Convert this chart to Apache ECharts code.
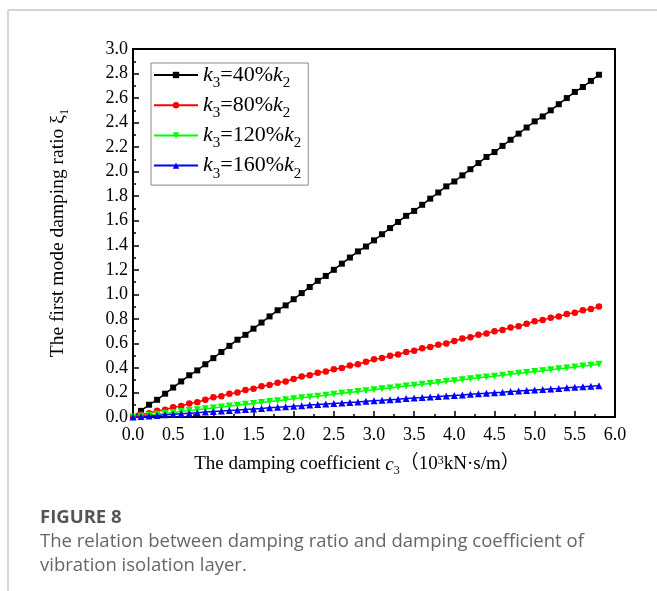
<!DOCTYPE html>
<html>
<head>
<meta charset="utf-8">
<script src="https://cdn.jsdelivr.net/npm/echarts@6/dist/echarts.min.js"></script>
<style>
  html, body { margin: 0; padding: 0; background: #fff; }
  #chart { width: 657px; height: 591px; }
</style>
</head>
<body>
<div id="chart"></div>
<script>
// damping coefficient c3 (10^3 kN·s/m)
var c3 = [0.0, 0.1, 0.2, 0.3, 0.4, 0.5, 0.6, 0.7, 0.8, 0.9,
  1.0, 1.1, 1.2, 1.3, 1.4, 1.5, 1.6, 1.7, 1.8, 1.9,
  2.0, 2.1, 2.2, 2.3, 2.4, 2.5, 2.6, 2.7, 2.8, 2.9,
  3.0, 3.1, 3.2, 3.3, 3.4, 3.5, 3.6, 3.7, 3.8, 3.9,
  4.0, 4.1, 4.2, 4.3, 4.4, 4.5, 4.6, 4.7, 4.8, 4.9,
  5.0, 5.1, 5.2, 5.3, 5.4, 5.5, 5.6, 5.7, 5.8];

var ratio40 = [0.00, 0.05, 0.10, 0.14, 0.19, 0.24, 0.29, 0.34, 0.38, 0.43,
  0.48, 0.53, 0.58, 0.63, 0.67, 0.72, 0.77, 0.82, 0.87, 0.91,
  0.96, 1.01, 1.06, 1.11, 1.15, 1.20, 1.25, 1.30, 1.35, 1.39,
  1.44, 1.49, 1.54, 1.59, 1.64, 1.68, 1.73, 1.78, 1.83, 1.88,
  1.92, 1.97, 2.02, 2.07, 2.12, 2.16, 2.21, 2.26, 2.31, 2.36,
  2.41, 2.45, 2.50, 2.55, 2.60, 2.65, 2.69, 2.74, 2.79];

var ratio80 = [0.00, 0.02, 0.03, 0.05, 0.06, 0.08, 0.09, 0.11, 0.12, 0.14,
  0.16, 0.17, 0.19, 0.20, 0.22, 0.23, 0.25, 0.26, 0.28, 0.29,
  0.31, 0.33, 0.34, 0.36, 0.37, 0.39, 0.40, 0.42, 0.43, 0.45,
  0.47, 0.48, 0.50, 0.51, 0.53, 0.54, 0.56, 0.57, 0.59, 0.60,
  0.62, 0.64, 0.65, 0.67, 0.68, 0.70, 0.71, 0.73, 0.74, 0.76,
  0.78, 0.79, 0.81, 0.82, 0.84, 0.85, 0.87, 0.88, 0.90];

var ratio120 = [0.000, 0.007, 0.015, 0.022, 0.030, 0.037, 0.044, 0.052, 0.059, 0.067,
  0.074, 0.082, 0.089, 0.096, 0.104, 0.111, 0.119, 0.126, 0.133, 0.141,
  0.148, 0.156, 0.163, 0.170, 0.178, 0.185, 0.193, 0.200, 0.207, 0.215,
  0.222, 0.230, 0.237, 0.245, 0.252, 0.259, 0.267, 0.274, 0.282, 0.289,
  0.296, 0.304, 0.311, 0.319, 0.326, 0.333, 0.341, 0.348, 0.356, 0.363,
  0.371, 0.378, 0.385, 0.393, 0.400, 0.408, 0.415, 0.422, 0.430];

var ratio160 = [0.000, 0.004, 0.009, 0.013, 0.018, 0.022, 0.026, 0.031, 0.035, 0.040,
  0.044, 0.048, 0.053, 0.057, 0.062, 0.066, 0.070, 0.075, 0.079, 0.084,
  0.088, 0.092, 0.097, 0.101, 0.106, 0.110, 0.114, 0.119, 0.123, 0.128,
  0.132, 0.136, 0.141, 0.145, 0.150, 0.154, 0.158, 0.163, 0.167, 0.172,
  0.176, 0.180, 0.185, 0.189, 0.194, 0.198, 0.202, 0.207, 0.211, 0.216,
  0.220, 0.224, 0.229, 0.233, 0.238, 0.242, 0.246, 0.251, 0.255];

var seriesNames = ["k3=40%k2", "k3=80%k2", "k3=120%k2", "k3=160%k2"];
var legendLabels = {
  "k3=40%k2": "{i|k}{s|3}=40%{i|k}{s|2}",
  "k3=80%k2": "{i|k}{s|3}=80%{i|k}{s|2}",
  "k3=120%k2": "{i|k}{s|3}=120%{i|k}{s|2}",
  "k3=160%k2": "{i|k}{s|3}=160%{i|k}{s|2}"
};
var captionTitle = "FIGURE 8";
var captionLines = [
  "The relation between damping ratio and damping coefficient of",
  "vibration isolation layer."
];

var serif = "'Liberation Serif', 'Times New Roman', 'Noto Sans CJK SC', serif";

function pairs(ys) {
  return c3.map(function (x, i) { return [x, ys[i]]; });
}

function makeSeries(name, ys, color, symbol, size, rotate) {
  return {
    name: name,
    type: "line",
    data: pairs(ys),
    symbol: symbol,
    symbolSize: size,
    symbolRotate: rotate,
    showAllSymbol: true,
    color: color,
    lineStyle: { color: color, width: 1.5 },
    itemStyle: { color: color }
  };
}

var chart = echarts.init(document.getElementById("chart"));
chart.setOption({
  animation: false,
  backgroundColor: "#fff",
  grid: {
    left: 133,
    top: 49,
    right: 42,
    bottom: 174,
    show: true,
    borderColor: "#000",
    borderWidth: 2
  },
  legend: {
    orient: "vertical",
    left: 151,
    top: 63,
    borderColor: "#888",
    borderWidth: 1,
    padding: [1, 7, 4, 2],
    itemWidth: 44,
    itemHeight: 8,
    itemGap: 3.7,
    itemTextGap: 10,
    itemStyle: { borderWidth: 0 },
    data: seriesNames,
    formatter: function (name) { return legendLabels[name]; },
    textStyle: {
      fontFamily: serif,
      fontSize: 22,
      color: "#000",
      rich: {
        i: { fontFamily: serif, fontSize: 22, fontStyle: "italic", color: "#000" },
        s: { fontFamily: serif, fontSize: 15, color: "#000", padding: [16, 0, 0, 0] }
      }
    }
  },
  xAxis: {
    type: "value",
    min: 0,
    max: 6,
    interval: 0.5,
    name: "The damping coefficient {i|c}{s|3}（10{u|3}kN·s/m）",
    nameLocation: "middle",
    nameGap: 35,
    nameTextStyle: {
      fontFamily: serif,
      fontSize: 19,
      color: "#000",
      padding: [0, 34, 0, 0],
      rich: {
        i: { fontFamily: serif, fontSize: 19, fontStyle: "italic", color: "#000" },
        s: { fontFamily: serif, fontSize: 12, color: "#000", padding: [13, 0, 0, 0] },
        u: { fontFamily: serif, fontSize: 12, color: "#000", padding: [0, 0, 8, 0] }
      }
    },
    axisLine: { show: true, lineStyle: { color: "#000", width: 2 } },
    axisTick: { show: true, inside: true, length: 6, lineStyle: { color: "#000", width: 1.5 } },
    minorTick: { show: true, splitNumber: 2, length: 3, lineStyle: { color: "#000", width: 1.5 } },
    splitLine: { show: false },
    axisLabel: {
      fontFamily: serif,
      fontSize: 18,
      color: "#000",
      margin: 9,
      formatter: function (v) { return v.toFixed(1); }
    }
  },
  yAxis: {
    type: "value",
    min: 0,
    max: 3,
    interval: 0.2,
    name: "The first mode damping ratio {g|ξ}{s|1}",
    nameLocation: "middle",
    nameRotate: 90,
    nameGap: 62,
    nameTextStyle: {
      fontFamily: serif,
      fontSize: 19.5,
      color: "#000",
      rich: {
        g: { fontFamily: serif, fontSize: 19.5, color: "#000" },
        s: { fontFamily: serif, fontSize: 12.5, color: "#000", padding: [13, 0, 0, 0] }
      }
    },
    axisLine: { show: true, lineStyle: { color: "#000", width: 2 } },
    axisTick: { show: true, inside: true, length: 6, lineStyle: { color: "#000", width: 1.5 } },
    minorTick: { show: true, splitNumber: 2, length: 3, lineStyle: { color: "#000", width: 1.5 } },
    splitLine: { show: false },
    axisLabel: {
      fontFamily: serif,
      fontSize: 18,
      color: "#000",
      margin: 5,
      formatter: function (v) { return v.toFixed(1); }
    }
  },
  graphic: [
    { type: "line", shape: { x1: 8, y1: 10, x2: 657, y2: 10 }, style: { stroke: "#d4d4d4", lineWidth: 2 } },
    { type: "line", shape: { x1: 8, y1: 10, x2: 8, y2: 591 }, style: { stroke: "#d4d4d4", lineWidth: 2 } },
    {
      type: "text", left: 40, top: 508,
      style: { text: captionTitle, fontFamily: "'Open Sans', Lato, sans-serif", fontSize: 18.5, fontWeight: "bold", fill: "#555555" }
    },
    {
      type: "text", left: 40, top: 530,
      style: {
        text: captionLines.join("\n"),
        fontFamily: "'Open Sans', Lato, sans-serif",
        fontSize: 18.5,
        lineHeight: 24,
        fill: "#666666"
      }
    }
  ],
  series: [
    makeSeries(seriesNames[0], ratio40, "#000000", "rect", 6, 0),
    makeSeries(seriesNames[1], ratio80, "#ff0000", "circle", 6.5, 0),
    makeSeries(seriesNames[2], ratio120, "#00ff00", "triangle", 7, 180),
    makeSeries(seriesNames[3], ratio160, "#0000ff", "triangle", 7, 0)
  ]
});
</script>
</body>
</html>
